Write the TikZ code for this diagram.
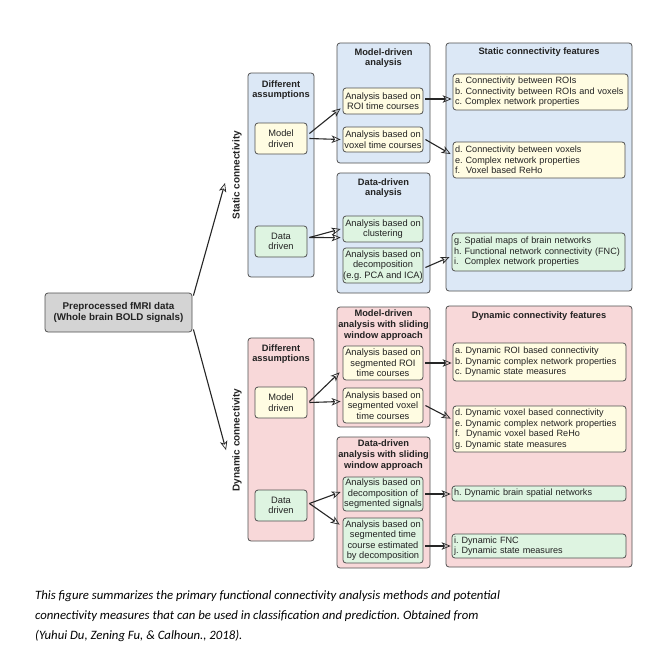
\documentclass[tikz,border=0pt]{standalone}
\usepackage{fontspec}
\setmainfont{Liberation Sans}
\newfontfamily\capfont{Carlito}
\usetikzlibrary{arrows.meta,calc}
\frenchspacing
\definecolor{blueF}{HTML}{DCE8F6}
\definecolor{pinkF}{HTML}{F8D8D9}
\definecolor{yelF}{HTML}{FFFCE2}
\definecolor{grnF}{HTML}{DEF4E1}
\definecolor{grayF}{HTML}{D4D4D4}
\definecolor{edgeC}{HTML}{505050}
\definecolor{txtC}{HTML}{222222}
\tikzset{
  every node/.style={font=\fontsize{9.3}{10.5}\selectfont, align=center, inner sep=0pt, text=txtC},
  bx/.style={draw=edgeC, line width=0.8pt, rounded corners=3pt},
  cont/.style={bx},
  hdr/.style={font=\bfseries\fontsize{9.3}{10.8}\selectfont},
  feat/.style={bx, align=left, inner xsep=2pt, font=\fontsize{9.1}{10.5}\selectfont},
  arr/.style={draw=black!85, line width=1.1pt, -{Stealth[open, length=9pt, width=7.5pt, line width=0.7pt, inset=2.5pt]}},
  capt/.style={anchor=base west, align=left, font=\capfont\itshape\fontsize{12.75}{20}\selectfont, text=black},
}
\begin{document}
\begin{tikzpicture}[x=1pt,y=-1pt]
\useasboundingbox (0,0) rectangle (656,664);
\fill[white] (0,0) rectangle (656,664);

% source
\node[bx, fill=grayF, minimum width=147, minimum height=39, font=\bfseries\fontsize{9.8}{11.5}\selectfont] (pre) at (118.5,312.5) {Preprocessed fMRI data\\(Whole brain BOLD signals)};

% ---------- static ----------
\node[cont, fill=blueF, minimum width=66, minimum height=204] (sda) at (281,175) {};
\node[hdr] (sdat) at (281,90) {Different\\assumptions};
\node[bx, fill=yelF, minimum width=52, minimum height=31] (smd) at (281,138.5) {Model\\driven};
\node[bx, fill=grnF, minimum width=52, minimum height=31] (sdd) at (281,241.5) {Data\\driven};
\node[hdr, rotate=90, font=\bfseries\fontsize{10}{11}\selectfont] (statlab) at (237,175) {Static connectivity};

\node[cont, fill=blueF, minimum width=93, minimum height=120] (sma) at (383.5,103) {};
\node[hdr] (smat) at (383.5,58) {Model-driven\\analysis};
\node[bx, fill=yelF, minimum width=80, minimum height=26] (sroi) at (383,101) {Analysis based on\\ROI time courses};
\node[bx, fill=yelF, minimum width=80, minimum height=25] (svox) at (383,139.5) {Analysis based on\\voxel time courses};

\node[cont, fill=blueF, minimum width=93, minimum height=120] (sdda) at (383.5,233) {};
\node[hdr] (sddat) at (383.5,188) {Data-driven\\analysis};
\node[bx, fill=grnF, minimum width=80, minimum height=26] (sclu) at (383,229) {Analysis based on\\clustering};
\node[bx, fill=grnF, minimum width=80, minimum height=35] (sdec) at (383,265.5) {Analysis based on\\decomposition\\(e.g. PCA and ICA)};

\node[cont, fill=blueF, minimum width=186, minimum height=248] (sfeat) at (539,167) {};
\node[hdr] (sfeatt) at (539,52) {Static connectivity features};
\node[feat, fill=yelF, text width=171, minimum height=36] (fac) at (540.5,92) {a. Connectivity between ROIs\\b. Connectivity between ROIs and voxels\\c. Complex network properties};
\node[feat, fill=yelF, text width=168, minimum height=36] (fdf) at (539,160) {d. Connectivity between voxels\\e. Complex network properties\\f.\ \ Voxel based ReHo};
\node[feat, fill=grnF, text width=169, minimum height=38] (fgi) at (538.5,252) {g. Spatial maps of brain networks\\h. Functional network connectivity (FNC)\\i.\ \ Complex network properties};

% ---------- dynamic ----------
\node[cont, fill=pinkF, minimum width=66, minimum height=203] (dda) at (281,439.5) {};
\node[hdr] (ddat) at (281,354) {Different\\assumptions};
\node[bx, fill=yelF, minimum width=52, minimum height=31] (dmd) at (281,402.5) {Model\\driven};
\node[bx, fill=grnF, minimum width=52, minimum height=31] (ddd) at (281,505.5) {Data\\driven};
\node[hdr, rotate=90, font=\bfseries\fontsize{10}{11}\selectfont] (dynlab) at (237,440) {Dynamic connectivity};

\node[cont, fill=pinkF, minimum width=93, minimum height=120] (dma) at (383.5,367) {};
\node[hdr] (dmat) at (383.5,325) {Model-driven\\analysis with sliding\\window approach};
\node[bx, fill=yelF, minimum width=80, minimum height=34] (droi) at (383,363) {Analysis based on\\segmented ROI\\time courses};
\node[bx, fill=yelF, minimum width=80, minimum height=35] (dvox) at (383,405.5) {Analysis based on\\segmented voxel\\time courses};

\node[cont, fill=pinkF, minimum width=93, minimum height=131] (ddda) at (383.5,502.5) {};
\node[hdr] (dddat) at (383.5,455) {Data-driven\\analysis with sliding\\window approach};
\node[bx, fill=grnF, minimum width=80, minimum height=34] (ddec) at (383,494) {Analysis based on\\decomposition of\\segmented signals};
\node[bx, fill=grnF, minimum width=80, minimum height=45] (dtc) at (383,540.5) {Analysis based on\\segmented time\\course estimated\\by decomposition};

\node[cont, fill=pinkF, minimum width=186, minimum height=261] (dfeat) at (539,436.5) {};
\node[hdr] (dfeatt) at (539,316) {Dynamic connectivity features};
\node[feat, fill=yelF, text width=169, minimum height=38] (dac) at (539.5,362) {a. Dynamic ROI based connectivity\\b. Dynamic complex network properties\\c. Dynamic state measures};
\node[feat, fill=yelF, text width=169, minimum height=46] (ddg) at (539.5,429) {d. Dynamic voxel based connectivity\\e. Dynamic complex network properties\\f.\ \ Dynamic voxel based ReHo\\g. Dynamic state measures};
\node[feat, fill=grnF, text width=170, minimum height=15] (dh) at (539,493.5) {h. Dynamic brain spatial networks};
\node[feat, fill=grnF, text width=170, minimum height=24] (dij) at (539,546) {i. Dynamic FNC\\j. Dynamic state measures};

% ---------- arrows ----------
\coordinate (statend) at (225,183);
\coordinate (dynend) at (226,450);
\draw[arr] ($(pre.north east)+(1,3)$) -- (statend);
\draw[arr] ($(pre.south east)+(1,-3)$) -- (dynend);

\draw[arr] ($(smd.east)+(2,-5)$) -- ($(sroi.south west)+(-2,-6)$);
\draw[arr] ($(smd.east)+(2,0)$) -- ($(svox.west)+(-2,0)$);
\draw[arr] ($(sdd.east)+(2,-4)$) -- ($(sclu.west)+(-2,0)$);
\draw[arr] ($(sdd.east)+(2,-4)$) -- ($(sdec.north west)+(-2,-10)$);
\draw[arr] ($(sroi.east)+(2,-2)$) -- ($(fac.west |- sroi.east)+(-1,-2)$);
\draw[arr] ($(svox.east)+(2,0)$) -- ($(fdf.west)+(-2,-6)$);
\draw[arr] ($(sdec.east)+(2,2)$) -- ($(fgi.west)+(-2,5)$);

\draw[arr] ($(dmd.east)+(2,-1)$) -- ($(droi.south west)+(-3,-8)$);
\draw[arr] ($(dmd.east)+(2,0)$) -- ($(dvox.west)+(-2,-4)$);
\draw[arr] ($(ddd.east)+(2,-2)$) -- ($(ddec.west)+(-2,-2)$);
\draw[arr] ($(ddd.east)+(2,-2)$) -- ($(dtc.north west)+(-3,7)$);
\draw[arr] ($(droi.east)+(2,0)$) -- ($(dac.west |- droi.east)+(-1,0)$);
\draw[arr] ($(dvox.east)+(2,0)$) -- ($(ddg.north west)+(-2,13)$);
\draw[arr] ($(ddec.east)+(2,0)$) -- ($(dh.west |- ddec.east)+(-1,0)$);
\draw[arr] ($(dij.west -| dtc.east)+(2,0)$) -- ($(dij.west)+(-1,0)$);

% caption
\node[capt] (cap1) at (35,599) {This figure summarizes the primary functional connectivity analysis methods and potential};
\node[capt] (cap2) at (35,619) {connectivity measures that can be used in classification and prediction. Obtained from};
\node[capt] (cap3) at (35,639) {(Yuhui Du, Zening Fu, \& Calhoun., 2018).};
\end{tikzpicture}
\end{document}
